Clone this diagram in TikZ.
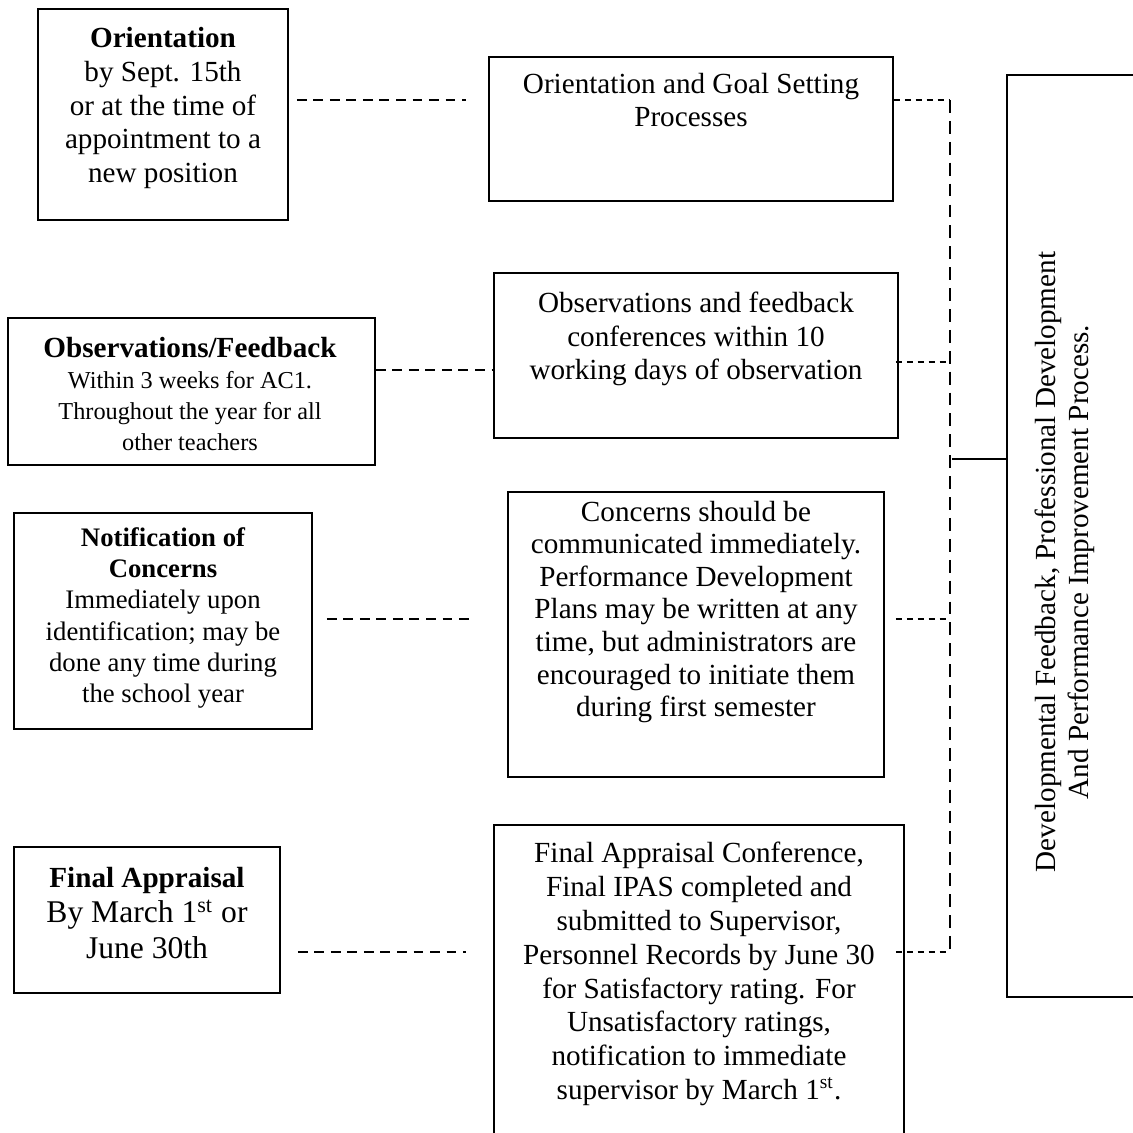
\documentclass[tikz,border=0pt]{standalone}
\usepackage{fontspec}
\setmainfont{Liberation Serif}
\usetikzlibrary{fit}
\tikzset{
  stage/.style={rectangle,draw,line width=0.7pt,inner sep=0pt},
  txt/.style={align=center,inner sep=0pt},
  link/.style={draw,line width=0.6pt,dash pattern=on 4pt off 2.8pt},
  tap/.style={draw,line width=0.6pt,dash pattern=on 2.5pt off 2pt},
  bus/.style={draw,line width=0.6pt,dash pattern=on 5.3pt off 3.3pt}
}

\begin{document}
\begin{tikzpicture}[x=0.4115pt,y=-0.4115pt]
  \useasboundingbox (0,0) rectangle (1133,1133);
  \clip (0,0) rectangle (1133,1133);

  % left column: when
  \node[stage,fit={(38,9) (288,220)}] (orient) {};
  \node[txt,font=\fontsize{12}{13.9}\selectfont] (orienttxt) at (163,108)
    {{\bfseries Orientation}\\by Sept. 15th\\or at the time of\\appointment to a\\new position};
  \node[stage,fit={(8,318) (375,465)}] (obsv) {};
  \node[txt,font=\fontsize{10}{12.7}\selectfont] (obsvtxt) at (190,394)
    {{\fontsize{12}{12.7}\selectfont\bfseries Observations/Feedback}\\Within 3 weeks for AC1.\\Throughout the year for all\\other teachers};
  \node[stage,fit={(14,513) (312,729)}] (notif) {};
  \node[txt,font=\fontsize{11}{12.8}\selectfont] (notiftxt) at (163,618)
    {{\bfseries Notification of}\\{\bfseries Concerns}\\Immediately upon\\identification; may be\\done any time during\\the school year};
  \node[stage,fit={(14,847) (280,993)}] (final) {};
  \node[txt,font=\fontsize{13}{14.8}\selectfont] (finaltxt) at (147,913)
    {{\fontsize{12}{14.8}\selectfont\bfseries Final Appraisal}\\By March 1\textsuperscript{st} or\\June 30th};

  % middle column: what
  \node[stage,fit={(489,57) (893,201)}] (goal) {};
  \node[txt,font=\fontsize{12}{13.2}\selectfont] (goaltxt) at (691,100)
    {Orientation and Goal Setting\\Processes};
  \node[stage,fit={(494,273) (898,438)}] (obsconf) {};
  \node[txt,font=\fontsize{12}{13.8}\selectfont] (obsconftxt) at (696,339)
    {Observations and feedback\\conferences within 10\\working days of observation};
  \node[stage,fit={(508,492) (884,777)}] (concern) {};
  \node[txt,font=\fontsize{12}{13.4}\selectfont] (concerntxt) at (696,612)
    {Concerns should be\\communicated immediately.\\Performance Development\\Plans may be written at any\\time, but administrators are\\encouraged to initiate them\\during first semester};
  \node[stage,fit={(494,825) (904,1150)}] (conf) {};
  \node[txt,font=\fontsize{12}{13.9}\selectfont] (conftxt) at (699,974)
    {Final Appraisal Conference,\\Final IPAS completed and\\submitted to Supervisor,\\Personnel Records by June 30\\for Satisfactory rating. For\\Unsatisfactory ratings,\\notification to immediate\\supervisor by March 1\textsuperscript{st}.};

  % right: process
  \node[stage,fit={(1007,75) (1150,997)}] (dev) {};
  \node[txt,rotate=90,font=\fontsize{12}{13.6}\selectfont] (devtxt) at (1065,562)
    {Developmental Feedback,  Professional Development\\And Performance Improvement Process.};

  \coordinate (j1) at (950,100);
  \coordinate (j2) at (950,362);
  \coordinate (j3) at (950,619);
  \coordinate (j4) at (950,952);
  \coordinate (j5) at (950,459);
  \coordinate (k2) at (0,370);

  \draw[link] (orient.east |- j1) ++(8,0) -- +(169,0);
  \draw[link] (obsv.east |- k2) -- (obsconf.west |- k2);
  \draw[link] (notif.east |- j3) ++(14,0) -- +(147,0);
  \draw[link] (final.east |- j4) ++(17,0) -- +(168,0);

  \draw[tap] (goal.east |- j1) -- (j1);
  \draw[tap] (obsconf.east |- j2) ++(-3,0) -- (j2);
  \draw[tap] (concern.east |- j3) ++(11,0) -- (j3);
  \draw[tap] (conf.east |- j4) ++(-9,0) -- (j4);
  \draw[bus] (j1) -- (j4);
  \draw[line width=0.7pt] (j5) ++(2,0) -- (dev.west |- j5);
\end{tikzpicture}
\end{document}
